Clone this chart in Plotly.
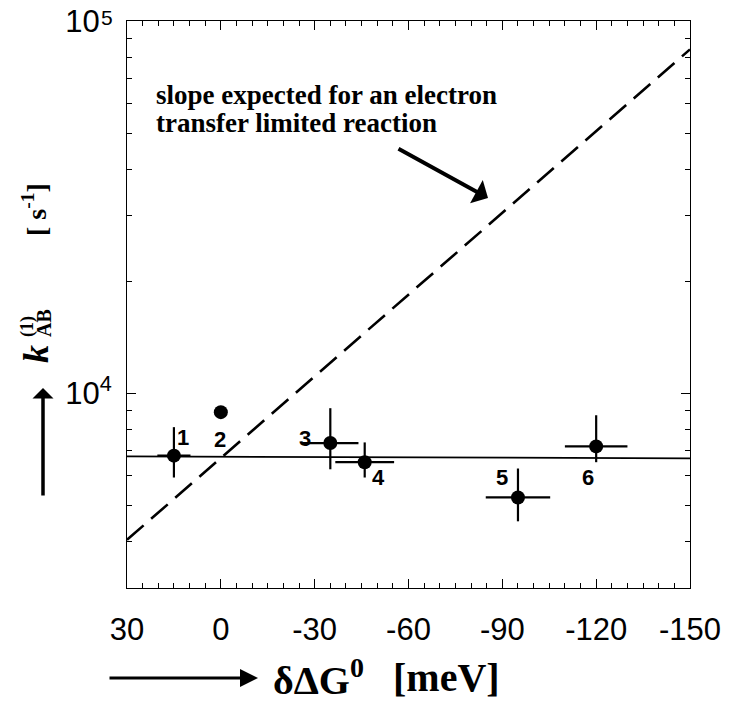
import math
import plotly.graph_objects as go

# ---- data ----
point_labels = ["1", "2", "3", "4", "5", "6"]
dG = [15, 0, -35, -46, -95, -120]            # meV
k_ab = [6800, 8900, 7350, 6530, 5250, 7200]  # s^-1
err_dG = [5.3, 0, 9.0, 9.4, 10.3, 10.0]
err_k_plus = [1310, 0, 1770, 850, 1030, 1530]
err_k_minus = [860, 0, 1100, 590, 720, 670]

fit_x = [30, -150]
fit_y = [6770, 6690]

et_x = [30, -150]
et_y = [4040, 83900]

x_tickvals = [30, 0, -30, -60, -90, -120, -150]
x_ticktext = ["30", "0", "-30", "-60", "-90", "-120", "-150"]
y_tickvals = [1e4, 1e5]
y_ticktext = ["10<sup>4</sup>", "10<sup>\u2007</sup>"]
y_top_exponent = "5"   # superscript of the top label, drawn lower so it is not clipped
y_minor = [3000, 4000, 5000, 6000, 7000, 8000, 9000,
           20000, 30000, 40000, 50000, 60000, 70000, 80000, 90000]

# label offsets (pixels) relative to each point
lab_dx = [9, -1, -25, 14, -16, -8]
lab_dy = [18, -27, 5, -15, 20, -31]

# ---- layout geometry (page body has an 8px margin) ----
OFF = 8
W, H = 721, 698
L, R, T, B = 119, 39, 13, 118
PW, PH = W - L - R, H - T - B


def px(sx):
    return (sx - OFF - L) / PW


def py(sy):
    return (H - B - (sy - OFF)) / PH


SERIF = "Liberation Serif, Times New Roman, serif"
SANS = "Liberation Sans, Arial, sans-serif"

fig = go.Figure()

fig.add_trace(go.Scatter(
    x=et_x, y=et_y, mode="lines",
    line=dict(color="black", width=2.6, dash="22px,10px"),
    showlegend=False, hoverinfo="skip"))

fig.add_trace(go.Scatter(
    x=fit_x, y=fit_y, mode="lines",
    line=dict(color="black", width=1.8),
    showlegend=False, hoverinfo="skip"))

fig.add_trace(go.Scatter(
    x=dG, y=k_ab, mode="markers",
    marker=dict(color="black", size=14),
    error_x=dict(type="data", array=err_dG, color="black", thickness=2.2, width=0),
    error_y=dict(type="data", symmetric=False, array=err_k_plus,
                 arrayminus=err_k_minus, color="black", thickness=2.2, width=0),
    showlegend=False))

annotations = []
for lab, xv, yv, dx, dy in zip(point_labels, dG, k_ab, lab_dx, lab_dy):
    annotations.append(dict(
        x=xv, y=math.log10(yv), xref="x", yref="y", text="<b>%s</b>" % lab,
        showarrow=False, xshift=dx, yshift=dy,
        xanchor="center", yanchor="middle",
        font=dict(family=SANS, size=22, color="black")))


def txt(sx, sy, text, size, family=SERIF, angle=0, xanchor="center"):
    annotations.append(dict(
        x=px(sx), y=py(sy), xref="paper", yref="paper",
        xanchor=xanchor, yanchor="middle", text=text, showarrow=False,
        textangle=angle, font=dict(family=family, size=size, color="black")))


def arrow(hx, hy, tx, ty, width, head=1, size=1.0):
    annotations.append(dict(
        x=px(hx), y=py(hy), xref="paper", yref="paper", text="",
        showarrow=True, arrowhead=head, arrowsize=size, arrowwidth=width,
        arrowcolor="black", ax=tx - hx, ay=ty - hy))


# exponent of the top y tick label
txt(99, 17, y_top_exponent, 21, family=SANS, xanchor="left")

# annotation text + arrow
txt(154, 95, "<b>slope expected for an electron</b>", 27, xanchor="left")
txt(154, 123, "<b>transfer limited reaction</b>", 27, xanchor="left")
arrow(488, 198, 397, 148, 4, head=1, size=1.1)

# y-axis title pieces
txt(36, 354, "<b><i>k</i></b>", 36, angle=-90)
txt(44, 323, "<b>AB</b>", 20, angle=-90)
txt(27, 327, "<b>(1)</b>", 18, angle=-90)
txt(34, 210, "<b>[\u00a0s<sup>-1</sup>]</b>", 28, angle=-90)
arrow(43, 388, 43, 497, 3.5, head=1, size=1.0)

# x-axis title
txt(318, 677, "<b>\u03b4\u0394G<sup>0</sup></b>", 40)
txt(446, 677, "<b>[meV]</b>", 40)
arrow(258, 678, 108, 678, 3, head=2, size=1.2)

axis_common = dict(
    automargin=False, showgrid=False, zeroline=False,
    showline=True, linecolor="black", linewidth=1, mirror="ticks",
    ticks="inside", ticklen=9, tickwidth=1, tickcolor="black",
    tickfont=dict(family=SANS, size=31, color="black"),
    ticklabeloverflow="allow",
)

fig.update_layout(
    template="none",
    width=W, height=H,
    margin=dict(l=L, r=R, t=T, b=B, autoexpand=False),
    paper_bgcolor="white", plot_bgcolor="white",
    annotations=annotations,
    showlegend=False,
    xaxis=dict(
        range=[30, -150], tickvals=x_tickvals, ticktext=x_ticktext,
        ticklabelstandoff=14,
        minor=dict(dtick=5, tick0=0, ticks="inside", ticklen=5,
                   tickwidth=1, tickcolor="black", showgrid=False),
        **axis_common,
    ),
    yaxis=dict(
        type="log", range=[3.477, 5.0],
        tickvals=y_tickvals, ticktext=y_ticktext,
        ticklabelstandoff=8,
        minor=dict(tickvals=y_minor, ticks="inside", ticklen=5,
                   tickwidth=1, tickcolor="black", showgrid=False),
        **axis_common,
    ),
)

fig.write_html("out.html")
